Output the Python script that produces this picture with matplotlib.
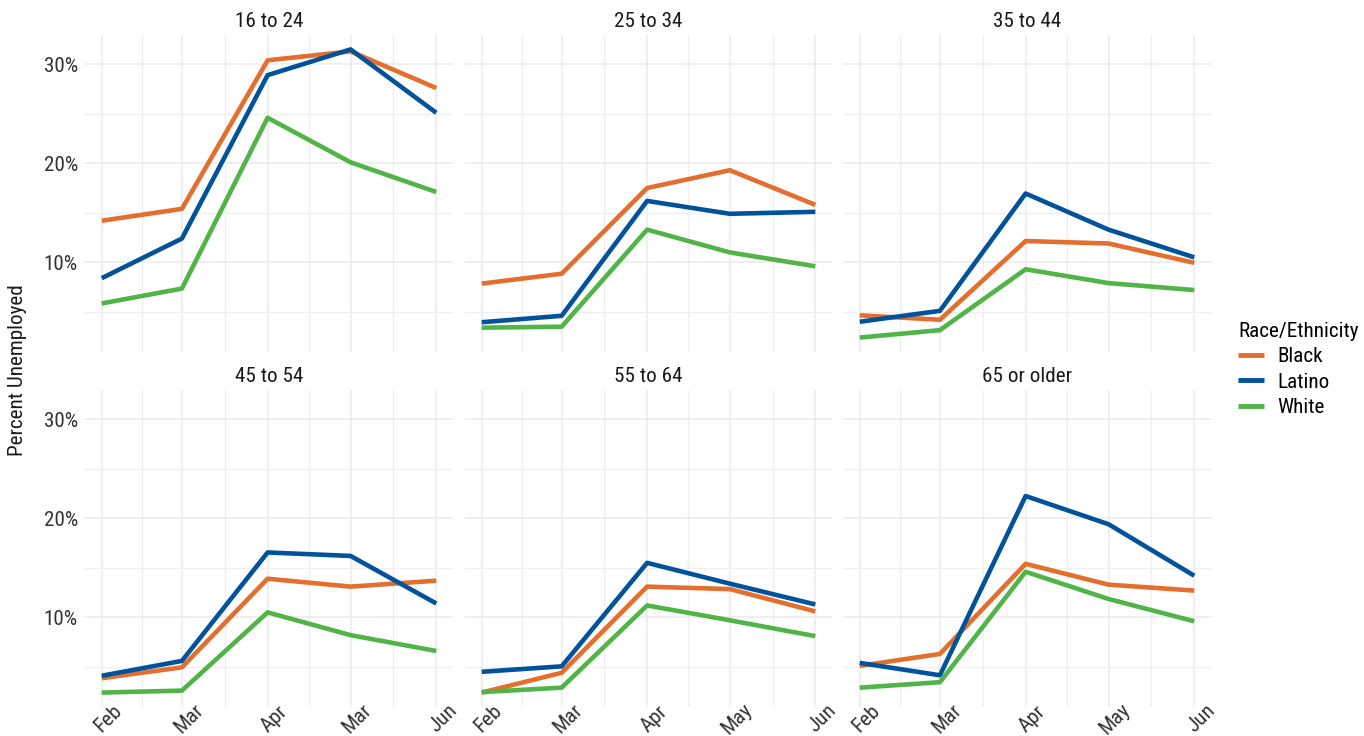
import datetime as dt
import matplotlib
matplotlib.use("Agg")
import matplotlib.pyplot as plt
import matplotlib.dates as mdates
from matplotlib import font_manager
from matplotlib.lines import Line2D
from matplotlib.legend_handler import HandlerLine2D
from matplotlib.ticker import FuncFormatter

# data (percent unemployed)
months = [dt.date(2020, 2, 15), dt.date(2020, 3, 15), dt.date(2020, 4, 15),
          dt.date(2020, 5, 15), dt.date(2020, 6, 15)]
labels_first_col = ["Feb", "Mar", "Apr", "Mar", "Jun"]
labels_other = ["Feb", "Mar", "Apr", "May", "Jun"]
age_groups = ["16 to 24", "25 to 34", "35 to 44", "45 to 54", "55 to 64", "65 or older"]
groups = ["Black", "Latino", "White"]

black = [
    [14.2, 15.4, 30.4, 31.3, 27.6],
    [7.85, 8.85, 17.5, 19.3, 15.8],
    [4.65, 4.2, 12.15, 11.9, 9.95],
    [3.85, 4.95, 13.9, 13.1, 13.7],
    [2.4, 4.4, 13.1, 12.85, 10.6],
    [5.1, 6.3, 15.4, 13.3, 12.7],
]
latino = [
    [8.4, 12.4, 28.9, 31.5, 25.1],
    [3.95, 4.6, 16.2, 14.9, 15.1],
    [4.0, 5.1, 16.95, 13.3, 10.5],
    [4.1, 5.6, 16.55, 16.2, 11.4],
    [4.5, 5.05, 15.5, 13.4, 11.3],
    [5.4, 4.15, 22.25, 19.4, 14.2],
]
white = [
    [5.85, 7.35, 24.6, 20.1, 17.1],
    [3.4, 3.5, 13.3, 11.0, 9.6],
    [2.4, 3.15, 9.3, 7.9, 7.2],
    [2.4, 2.6, 10.5, 8.2, 6.6],
    [2.45, 2.9, 11.2, 9.7, 8.1],
    [2.9, 3.45, 14.6, 11.85, 9.6],
]
colors = {"Black": "#E46E2E", "Latino": "#00529B", "White": "#50B447"}
series = {"Black": black, "Latino": latino, "White": white}

# pick a narrow font if one is around, else Roboto a bit smaller
fsize = 12.5
fam = ['Roboto', 'DejaVu Sans']
for cand in ['Roboto Condensed', 'Liberation Sans Narrow', 'DejaVu Sans Condensed', 'Arial Narrow']:
    try:
        font_manager.findfont(font_manager.FontProperties(family=cand), fallback_to_default=False)
        fam = [cand, 'DejaVu Sans']
        fsize = 15.2
        break
    except ValueError:
        pass
plt.rcParams['font.family'] = fam

W, H = 1364, 736
fig = plt.figure(figsize=(W / 100, H / 100), dpi=100)

col_x = [(85, 453), (465, 832), (843, 1211)]
row_y = [(35, 352), (390, 707)]

x = mdates.date2num(months)
minor_x = [(x[i] + x[i + 1]) / 2 for i in range(len(x) - 1)]
all_vals = [v for s in series.values() for p in s for v in p]
ymin, ymax = min(all_vals), max(all_vals)
pad = 0.05 * (ymax - ymin)
xpad = 0.05 * (x[-1] - x[0])

for k, name in enumerate(age_groups):
    r, c = divmod(k, 3)
    x0, x1 = col_x[c]
    y0, y1 = row_y[r]
    ax = fig.add_axes([x0 / W, 1 - y1 / H, (x1 - x0) / W, (y1 - y0) / H])
    for g in groups:
        ax.plot(x, series[g][k], color=colors[g], lw=3.3, solid_capstyle='butt', zorder=3)
    ax.set_xlim(x[0] - xpad, x[-1] + xpad)
    ax.set_ylim(ymin - pad, ymax + pad)
    ax.set_xticks(x)
    ax.set_xticks(minor_x, minor=True)
    ax.set_yticks([10, 20, 30])
    ax.set_yticks([5, 15, 25], minor=True)
    ax.grid(which='major', color='#EBEBEB', lw=1.1)
    ax.grid(which='minor', color='#EFEFEF', lw=0.9)
    ax.set_axisbelow(True)
    for sp in ax.spines.values():
        sp.set_visible(False)
    ax.tick_params(which='both', length=0, labelsize=fsize, labelcolor='#333333')
    ax.tick_params(axis='y', pad=5)
    if c == 0:
        ax.yaxis.set_major_formatter(FuncFormatter(lambda v, p: f"{v:.0f}%"))
    else:
        ax.set_yticklabels([])
    if r == 1:
        labs = labels_first_col if c == 0 else labels_other
        ax.set_xticklabels(labs, rotation=45, ha='center', va='top', rotation_mode='anchor')
        ax.tick_params(axis='x', pad=3.5)
    else:
        ax.set_xticklabels([])
    ax.set_title(name, fontsize=fsize, color='#1A1A1A', pad=6)

fig.text(18 / W, 1 - 370 / H, "Percent Unemployed", rotation=90, ha='center', va='center',
         fontsize=fsize, color='#1A1A1A')

handles = [Line2D([0], [0], color=colors[g], lw=3.5, solid_capstyle='butt') for g in groups]
leg = fig.legend(handles, groups, title="Race/Ethnicity", loc='upper left',
                 bbox_to_anchor=(1238 / W, 1 - 322 / H), frameon=False, fontsize=fsize,
                 title_fontsize=fsize, handlelength=1.25, handletextpad=0.6, labelspacing=0.3,
                 alignment='left', borderaxespad=0, borderpad=0,
                 handler_map={Line2D: HandlerLine2D(marker_pad=0)})

fig.savefig("out.png", dpi=100)
